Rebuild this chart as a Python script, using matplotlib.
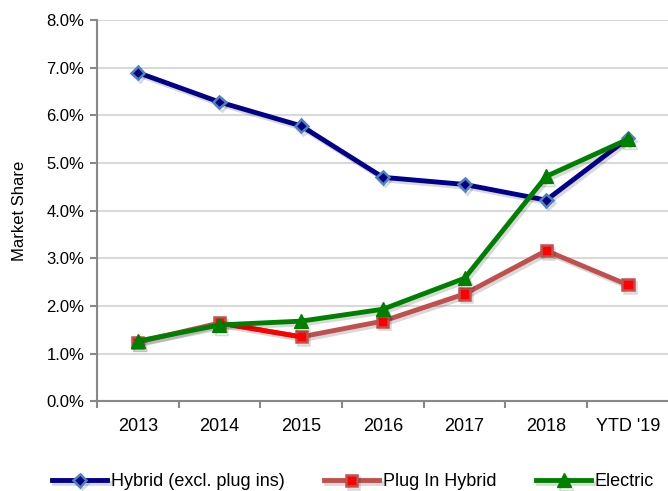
import numpy as np
import matplotlib
matplotlib.use("Agg")
import matplotlib.pyplot as plt
from matplotlib.ticker import FuncFormatter, FixedLocator
import matplotlib.patheffects as pe

# data (market share, %)
years = ["2013", "2014", "2015", "2016", "2017", "2018", "YTD '19"]
hybrid = [6.90, 6.28, 5.78, 4.70, 4.55, 4.22, 5.52]
plugin = [1.24, 1.64, 1.35, 1.68, 2.25, 3.16, 2.44]
electric = [1.26, 1.60, 1.68, 1.93, 2.58, 4.72, 5.50]

plt.rcParams["font.family"] = ["Liberation Sans", "DejaVu Sans"]

fig = plt.figure(figsize=(6.68, 4.91), dpi=100)
ax = fig.add_axes([0.145, 0.183, 0.855, 0.776])

x = np.arange(len(years))
shadow = [pe.SimpleLineShadow(offset=(1.5, -2), alpha=0.15, shadow_color="k"), pe.Normal()]

ax.plot(x, hybrid, color="#00008b", lw=3.5, marker="D", ms=6.5,
        mfc="#000080", mec="#4f81bd", mew=1.8, label="Hybrid (excl. plug ins)",
        zorder=3, path_effects=shadow)
ax.plot(x, plugin, color="#c0504d", lw=3.5, marker="s", ms=8,
        mfc="#ff0000", mec="#c0504d", mew=1.8, label="Plug In Hybrid",
        zorder=3, path_effects=shadow)
# the 2014-2015 segment is drawn bright red in the original
ax.plot(x[1:3], plugin[1:3], color="#ff0000", lw=3.5, zorder=3)
ax.plot(x, electric, color="#008000", lw=3.5, marker="^", ms=10,
        mfc="#008000", mec="#008000", label="Electric",
        zorder=4, path_effects=shadow)

ax.set_ylim(0, 8)
ax.set_yticks(np.arange(0, 9, 1))
ax.yaxis.set_major_formatter(FuncFormatter(lambda v, p: f"{v:.1f}%"))
ax.set_xlim(-0.5, 6.49)

ax.set_xticks(x)
ax.set_xticklabels(years, fontsize=13)
ax.xaxis.set_minor_locator(FixedLocator(np.arange(len(years)) - 0.5))
ax.tick_params(axis="x", which="major", length=0, pad=12)
ax.tick_params(axis="x", which="minor", length=5, width=1.5, color="#888888")
ax.tick_params(axis="y", length=5, width=1.5, color="#888888", labelsize=12, pad=4)

ax.grid(axis="y", color="#d9d9d9", lw=1.5)
ax.set_axisbelow(True)
for s in ["top", "right"]:
    ax.spines[s].set_visible(False)
for s in ["left", "bottom"]:
    ax.spines[s].set_color("#888888")
    ax.spines[s].set_linewidth(1.5)

ax.set_ylabel("Market Share", fontsize=12, labelpad=14)

fig.legend(loc="center left", bbox_to_anchor=(52 / 668, 1 - 482 / 491), ncol=3,
           frameon=False, borderpad=0, borderaxespad=0,
           handlelength=3.05, columnspacing=2.2, handletextpad=0.2,
           prop={"size": 13})

fig.savefig("out.png", dpi=100)
